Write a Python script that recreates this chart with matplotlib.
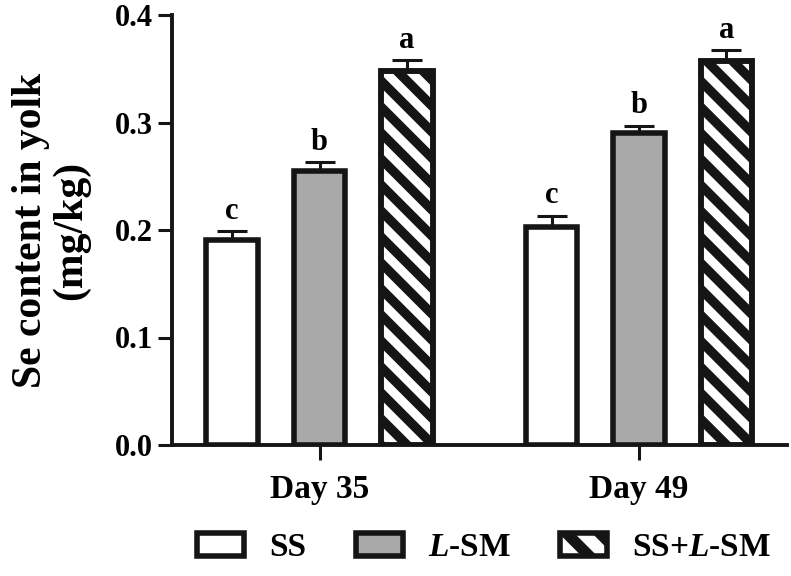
import numpy as np
import matplotlib
matplotlib.use("Agg")
import matplotlib.pyplot as plt
import matplotlib.transforms as mtransforms
from matplotlib.lines import Line2D
from matplotlib.patches import Patch

# data
groups = ["Day 35", "Day 49"]
treatments = ["SS", "$\\mathit{L}$-SM", "SS+$\\mathit{L}$-SM"]
means = {
    "SS": [0.191, 0.203],
    "L-SM": [0.255, 0.290],
    "SS+L-SM": [0.348, 0.357],
}
errors = {
    "SS": [0.008, 0.010],
    "L-SM": [0.008, 0.007],
    "SS+L-SM": [0.010, 0.010],
}
letters = {
    "SS": ["c", "c"],
    "L-SM": ["b", "b"],
    "SS+L-SM": ["a", "a"],
}
keys = ["SS", "L-SM", "SS+L-SM"]
fills = ["white", "#a9a9a9", "white"]

plt.rcParams["font.family"] = ["Liberation Serif", "DejaVu Serif"]
plt.rcParams["font.weight"] = "bold"
plt.rcParams["mathtext.fontset"] = "custom"
plt.rcParams["mathtext.it"] = "Liberation Serif:italic:bold"
plt.rcParams["mathtext.rm"] = "Liberation Serif:bold"
plt.rcParams["hatch.linewidth"] = 8.0

EDGE = "#151515"
DPI = 100
fig = plt.figure(figsize=(7.91, 5.76), dpi=DPI)
ax = fig.add_axes([172 / 791, 131 / 576, 615 / 791, 430 / 576])

group_pos = np.array([0.0, 3.66])
offsets = [-1, 0, 1]
width = 0.59
lw_edge = 4.0

ax.set_xlim(-1.69, 5.355)
ax.set_ylim(0, 0.4)

bars_by_key = {}
for k, off, fc in zip(keys, offsets, fills):
    xs = group_pos + off
    b = ax.bar(xs, means[k], width=width, color=fc, edgecolor=EDGE,
               linewidth=lw_edge, zorder=2)
    bars_by_key[k] = b
    ax.errorbar(xs, means[k], yerr=[np.zeros(2), errors[k]], fmt="none",
                ecolor=EDGE, elinewidth=2.2, capsize=10.8, capthick=2.2,
                zorder=1)
    for x, m, e, t in zip(xs, means[k], errors[k], letters[k]):
        ax.annotate(t, (x, m + e), xytext=(0, 4), textcoords="offset points",
                    ha="center", va="bottom", fontsize=22, fontweight="bold")

# diagonal stripes for SS+L-SM bars (wider than matplotlib hatch allows)
fig.canvas.draw()
period = 26
for rect in bars_by_key["SS+L-SM"]:
    bb = rect.get_window_extent()
    c0 = bb.x0 + bb.y0 - period
    c1 = bb.x1 + bb.y1 + period
    for c in np.arange(c0, c1, period):
        xa, xb = bb.x0 - 5, bb.x1 + 5
        ln = Line2D([xa, xb], [c - xa, c - xb], color=EDGE, lw=6.8,
                    solid_capstyle="butt", transform=mtransforms.IdentityTransform(),
                    zorder=2.5)
        ln.set_clip_path(rect)
        fig.add_artist(ln)
    # redraw the edge on top of stripes
    ax.bar(rect.get_x() + rect.get_width() / 2, rect.get_height(), width=width,
           fill=False, edgecolor=EDGE, linewidth=lw_edge, zorder=3)

for side in ["top", "right"]:
    ax.spines[side].set_visible(False)
for side in ["left", "bottom"]:
    ax.spines[side].set_linewidth(2.8)
    ax.spines[side].set_color(EDGE)

ax.set_yticks([0.0, 0.1, 0.2, 0.3, 0.4])
ax.set_yticklabels(["0.0", "0.1", "0.2", "0.3", "0.4"])
ax.set_xticks(group_pos)
ax.set_xticklabels(groups)
ax.tick_params(axis="y", length=10, width=2.2, pad=3.5, labelsize=22, color=EDGE)
ax.tick_params(axis="x", length=11, width=2.2, pad=10, labelsize=24, color=EDGE)
for lab in ax.get_xticklabels() + ax.get_yticklabels():
    lab.set_fontweight("bold")

ax.set_ylabel("Se content in yolk\n(mg/kg)", fontsize=30, fontweight="bold",
              linespacing=1.05)
ax.yaxis.set_label_coords(-0.133, 0.5)

handles = [
    Patch(facecolor="white", edgecolor=EDGE, linewidth=lw_edge),
    Patch(facecolor="#a9a9a9", edgecolor=EDGE, linewidth=lw_edge),
    Patch(facecolor="white", edgecolor=EDGE, linewidth=lw_edge, hatch="\\"),
]
fig.legend(handles, treatments, loc="center", bbox_to_anchor=(0.612, 0.049),
           ncol=3, frameon=False, prop={"size": 24, "weight": "bold"},
           handlelength=1.4, handleheight=0.65, handletextpad=0.75,
           columnspacing=1.5, borderpad=0)

fig.savefig("out.png", dpi=DPI)
